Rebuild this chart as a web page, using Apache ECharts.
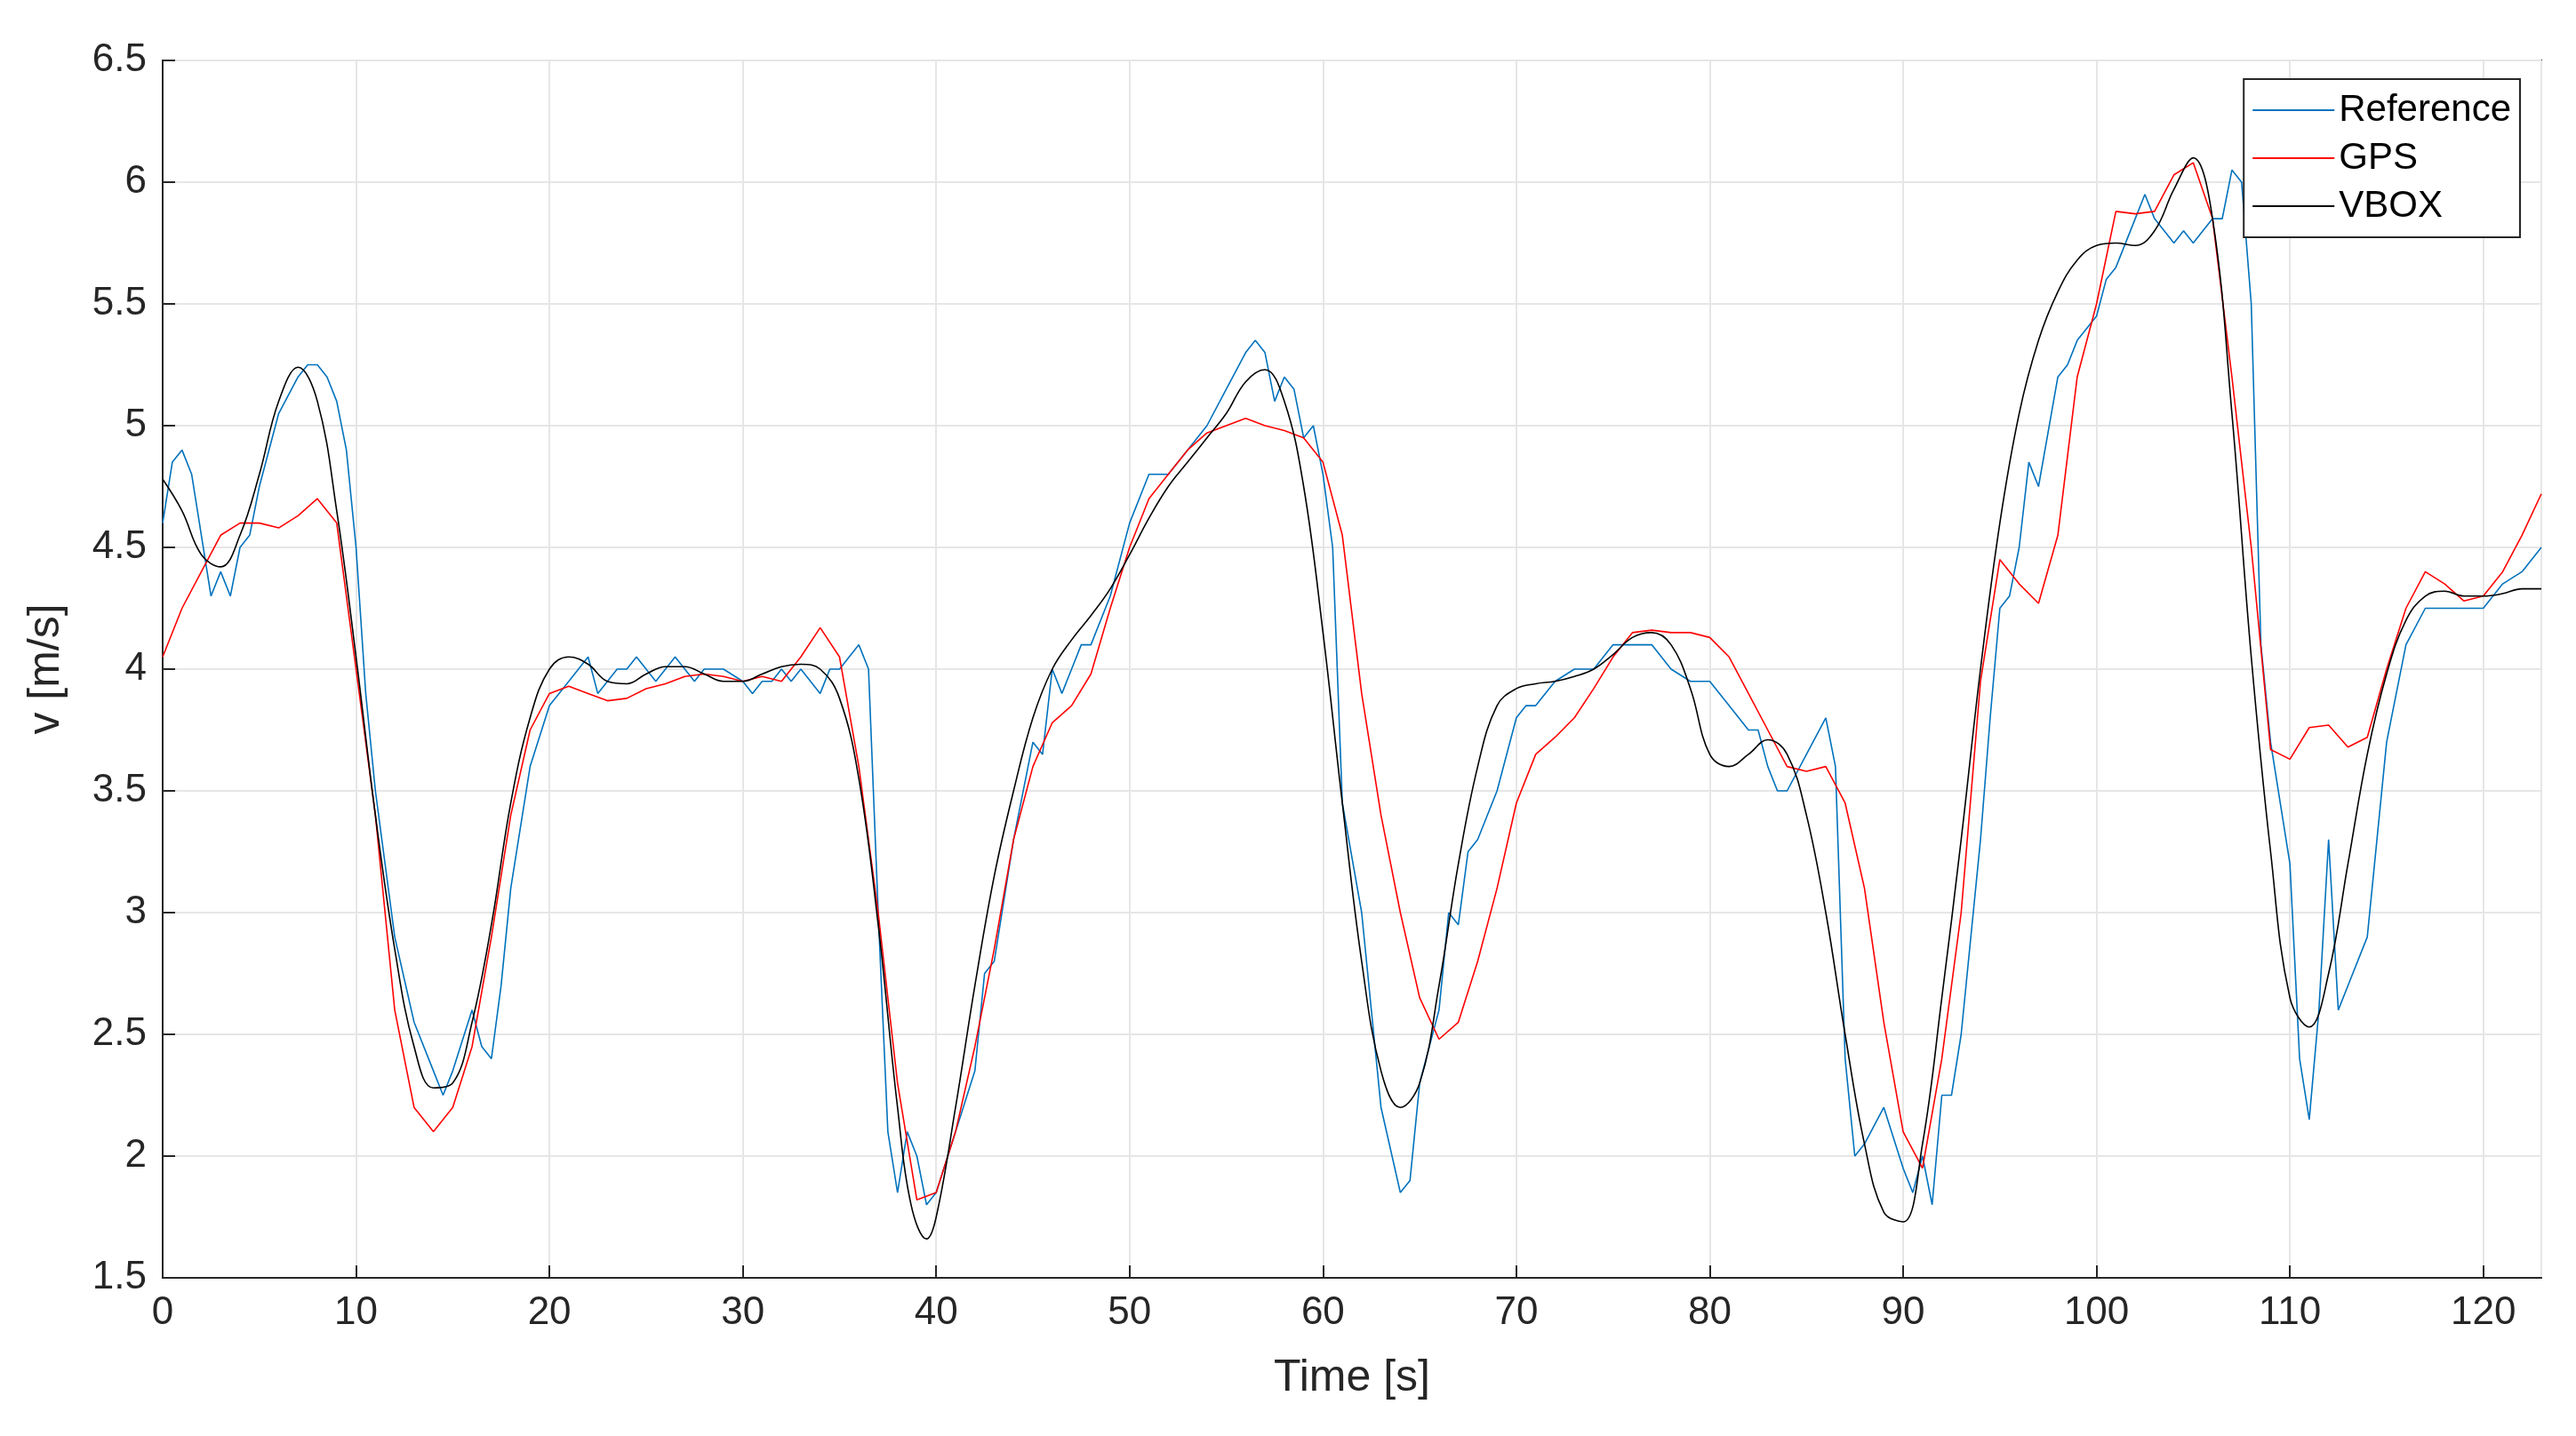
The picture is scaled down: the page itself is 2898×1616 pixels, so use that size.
<!DOCTYPE html>
<html><head><meta charset="utf-8">
<script src="https://cdn.jsdelivr.net/npm/echarts@6/dist/echarts.min.js"></script>
<style>html,body{margin:0;padding:0;background:#fff}#c{width:2898px;height:1616px}</style>
</head><body><div id="c"></div>
<script>
const referenceData=[[0,4.6],[0.5,4.85],[1,4.9],[1.5,4.8],[2,4.55],[2.5,4.3],[3,4.4],[3.5,4.3],[4,4.5],[4.5,4.55],[5,4.75],[6,5.05],[7,5.2],[7.5,5.25],[8,5.25],[8.5,5.2],[9,5.1],[9.5,4.9],[10,4.5],[10.5,3.9],[11,3.5],[12,2.9],[13,2.55],[14,2.35],[14.5,2.25],[15,2.35],[16,2.6],[16.5,2.45],[17,2.4],[17.5,2.7],[18,3.1],[19,3.6],[20,3.85],[21,3.95],[22,4.05],[22.5,3.9],[23,3.95],[23.5,4.0],[24,4.0],[24.5,4.05],[25,4.0],[25.5,3.95],[26,4.0],[26.5,4.05],[27,4.0],[27.5,3.95],[28,4.0],[29,4.0],[30,3.95],[30.5,3.9],[31,3.95],[31.5,3.95],[32,4.0],[32.5,3.95],[33,4.0],[34,3.9],[34.5,4.0],[35,4.0],[35.5,4.05],[36,4.1],[36.5,4.0],[37,3.0],[37.5,2.1],[38,1.85],[38.5,2.1],[39,2.0],[39.5,1.8],[40,1.85],[41,2.1],[42,2.35],[42.5,2.75],[43,2.8],[44,3.3],[45,3.7],[45.5,3.65],[46,4.0],[46.5,3.9],[47,4.0],[47.5,4.1],[48,4.1],[49,4.3],[50,4.6],[51,4.8],[52,4.8],[53,4.9],[54,5.0],[55,5.15],[56,5.3],[56.5,5.35],[57,5.3],[57.5,5.1],[58,5.2],[58.5,5.15],[59,4.95],[59.5,5.0],[60,4.8],[60.5,4.5],[61,3.45],[62,3.0],[63,2.2],[64,1.85],[64.5,1.9],[65,2.3],[66,2.6],[66.5,3.0],[67,2.95],[67.5,3.25],[68,3.3],[69,3.5],[70,3.8],[70.5,3.85],[71,3.85],[72,3.95],[73,4.0],[74,4.0],[75,4.1],[76,4.1],[77,4.1],[78,4.0],[79,3.95],[80,3.95],[81,3.85],[82,3.75],[82.5,3.75],[83,3.6],[83.5,3.5],[84,3.5],[85,3.65],[86,3.8],[86.5,3.6],[87,2.4],[87.5,2.0],[88,2.05],[89,2.2],[90,1.95],[90.5,1.85],[91,2.0],[91.5,1.8],[92,2.25],[92.5,2.25],[93,2.5],[94,3.3],[94.5,3.8],[95,4.25],[95.5,4.3],[96,4.5],[96.5,4.85],[97,4.75],[98,5.2],[98.5,5.25],[99,5.35],[100,5.45],[100.5,5.6],[101,5.65],[102,5.85],[102.5,5.95],[103,5.85],[103.5,5.8],[104,5.75],[104.5,5.8],[105,5.75],[106,5.85],[106.5,5.85],[107,6.05],[107.5,6.0],[108,5.5],[108.5,4.1],[109,3.7],[110,3.2],[110.5,2.4],[111,2.15],[111.5,2.6],[112,3.3],[112.5,2.6],[113,2.7],[114,2.9],[115,3.7],[116,4.1],[117,4.25],[118,4.25],[119,4.25],[120,4.25],[121,4.35],[122,4.4],[123,4.5]];
const gpsData=[[0,4.05],[1,4.25],[2,4.4],[3,4.55],[4,4.6],[5,4.6],[6,4.58],[7,4.63],[8,4.7],[9,4.6],[10,4.0],[11,3.4],[12,2.6],[13,2.2],[14,2.1],[15,2.2],[16,2.45],[17,2.9],[18,3.4],[19,3.75],[20,3.9],[21,3.93],[22,3.9],[23,3.87],[24,3.88],[25,3.92],[26,3.94],[27,3.97],[28,3.98],[29,3.97],[30,3.95],[31,3.97],[32,3.95],[33,4.05],[34,4.17],[35,4.05],[36,3.6],[37,3.0],[38,2.3],[39,1.82],[40,1.85],[41,2.1],[42,2.45],[43,2.85],[44,3.3],[45,3.6],[46,3.78],[47,3.85],[48,3.98],[49,4.25],[50,4.5],[51,4.7],[52,4.8],[53,4.9],[54,4.97],[55,5.0],[56,5.03],[57,5.0],[58,4.98],[59,4.95],[60,4.85],[61,4.55],[62,3.9],[63,3.4],[64,3.0],[65,2.65],[66,2.48],[67,2.55],[68,2.8],[69,3.1],[70,3.45],[71,3.65],[72,3.72],[73,3.8],[74,3.92],[75,4.05],[76,4.15],[77,4.16],[78,4.15],[79,4.15],[80,4.13],[81,4.05],[82,3.9],[83,3.75],[84,3.6],[85,3.58],[86,3.6],[87,3.45],[88,3.1],[89,2.55],[90,2.1],[91,1.95],[92,2.4],[93,3.0],[94,3.95],[95,4.45],[96,4.35],[97,4.27],[98,4.55],[99,5.2],[100,5.5],[101,5.88],[102,5.87],[103,5.88],[104,6.03],[105,6.08],[106,5.85],[107,5.2],[108,4.5],[109,3.67],[110,3.63],[111,3.76],[112,3.77],[113,3.68],[114,3.72],[115,4.0],[116,4.25],[117,4.4],[118,4.35],[119,4.28],[120,4.3],[121,4.4],[122,4.55],[123,4.72]];
const vboxData=[[0,4.78],[1,4.65],[2,4.47],[3,4.42],[4,4.55],[5,4.8],[6,5.1],[7,5.24],[8,5.1],[9,4.65],[10,4.05],[11,3.4],[12,2.85],[13,2.45],[14,2.28],[15,2.3],[16,2.55],[17,2.95],[18,3.45],[19,3.8],[20,4.0],[21,4.05],[22,4.02],[23,3.95],[24,3.94],[25,3.98],[26,4.01],[27,4.01],[28,3.98],[29,3.95],[30,3.95],[31,3.98],[32,4.01],[33,4.02],[34,4.0],[35,3.88],[36,3.55],[37,2.95],[38,2.2],[38.7,1.8],[39.5,1.66],[40,1.75],[41,2.2],[42,2.7],[43,3.15],[44,3.5],[45,3.8],[46,4.0],[47,4.12],[48,4.22],[49,4.33],[50,4.47],[51,4.62],[52,4.75],[53,4.85],[54,4.95],[55,5.05],[56,5.18],[57,5.23],[58,5.1],[59,4.75],[60,4.15],[61,3.45],[62,2.8],[63,2.35],[64,2.2],[65,2.3],[66,2.7],[67,3.2],[68,3.6],[69,3.85],[70,3.92],[71,3.94],[72,3.95],[73,3.97],[74,4.0],[75,4.06],[76,4.13],[77,4.15],[78,4.1],[79,3.92],[80,3.65],[81,3.6],[82,3.65],[83,3.71],[84,3.65],[85,3.4],[86,3.0],[87,2.5],[88,2.05],[89,1.77],[90,1.73],[91,2.05],[92,2.65],[93,3.3],[94,4.0],[95,4.6],[96,5.05],[97,5.35],[98,5.55],[99,5.68],[100,5.74],[101,5.75],[102,5.74],[103,5.8],[104,5.97],[105,6.1],[106,5.85],[107,5.05],[108,4.05],[109,3.25],[110,2.65],[111,2.53],[112,2.75],[113,3.2],[114,3.65],[115,3.98],[116,4.2],[117,4.3],[118,4.32],[119,4.3],[120,4.3],[121,4.31],[122,4.33],[123,4.33]];
const seriesNames=['Reference','GPS','VBOX'];
const chart=echarts.init(document.getElementById('c'),null,{renderer:'canvas'});
const F='"Liberation Sans", Arial, sans-serif';
const ax={axisLine:{show:true,lineStyle:{color:'#262626',width:2}},axisTick:{show:true,inside:true,length:14,lineStyle:{color:'#262626',width:2}},
  axisLabel:{color:'#262626',fontSize:44,fontFamily:F,margin:18},splitLine:{show:true,lineStyle:{color:'#e6e6e6',width:2}}};
chart.setOption({
  animation:false,backgroundColor:'#fff',
  grid:{left:183,right:39,top:68,bottom:178,show:true,borderColor:'#262626',borderWidth:2},
  xAxis:Object.assign({type:'value',min:0,max:123,interval:10,name:'Time [s]',nameLocation:'middle',nameGap:88,
    nameTextStyle:{fontSize:50,fontFamily:F,color:'#262626'}},ax),
  yAxis:Object.assign({type:'value',min:1.5,max:6.5,interval:0.5,name:'v [m/s]',nameLocation:'middle',nameGap:106,
    nameTextStyle:{fontSize:50,fontFamily:F,color:'#262626'}},ax),
  legend:{orient:'vertical',right:63,top:89,itemWidth:92,itemHeight:2,itemGap:12,padding:[14,10,14,10],
    backgroundColor:'#fff',borderColor:'#262626',borderWidth:2,borderRadius:0,
    textStyle:{fontSize:42,fontFamily:F,color:'#000'},data:seriesNames.map(n=>({name:n,icon:'rect'}))},
  series:[
    {name:seriesNames[0],type:'line',data:referenceData,showSymbol:false,lineStyle:{color:'#0072bd',width:1.6},itemStyle:{color:'#0072bd'}},
    {name:seriesNames[1],type:'line',data:gpsData,showSymbol:false,lineStyle:{color:'#ff0000',width:1.6},itemStyle:{color:'#ff0000'}},
    {name:seriesNames[2],type:'line',data:vboxData,showSymbol:false,smooth:0.4,lineStyle:{color:'#000',width:1.6},itemStyle:{color:'#000'}}
  ]
});
</script></body></html>
